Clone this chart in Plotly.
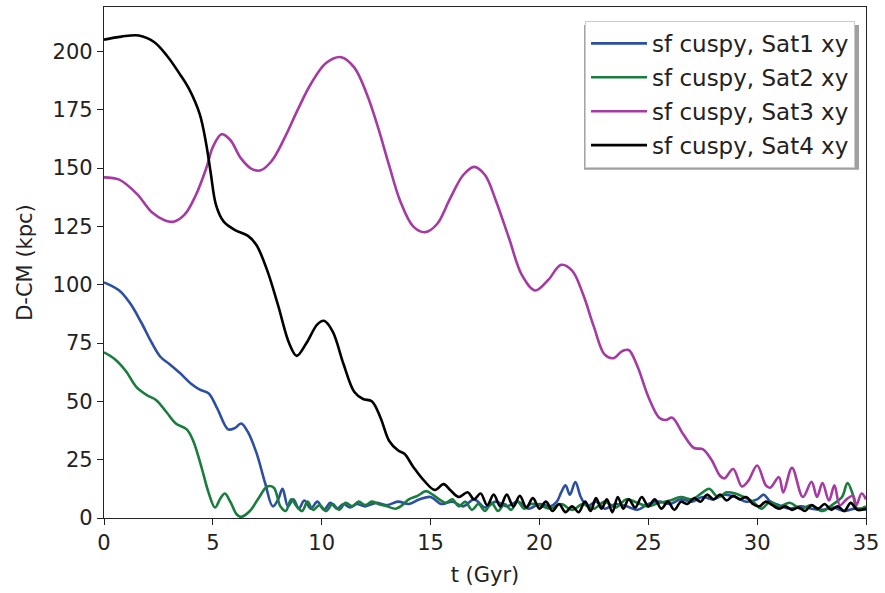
import plotly.graph_objects as go

# ---- data (t in Gyr, D-CM in kpc) ----
sat1_t = [0, 0.7, 1.2, 1.7, 2.2, 2.6, 3.0, 3.5, 4.0, 4.4, 4.8, 5.2, 5.7, 6.0, 6.3, 6.6, 7.0, 7.4, 7.75, 8.0,
          8.2, 8.45, 8.7, 8.95, 9.2, 9.5, 9.8, 10.1, 10.4, 10.7, 11.0, 11.3, 11.6, 12.0, 12.5, 13.0, 13.5, 14.0,
          14.5, 15.0, 15.5, 16.0, 16.5, 17.0, 17.5, 18.0, 18.5, 19.0, 19.5, 20.0, 20.5, 20.8, 21.0, 21.2, 21.4,
          21.65, 21.9, 22.2, 22.6, 23.0, 23.5, 24.0, 24.5, 25.0, 25.5, 26.0, 26.5, 27.0, 27.5, 28.0, 28.5, 29.0,
          29.5, 30.0, 30.3, 30.6, 31.0, 31.5, 32.0, 32.5, 33.0, 33.5, 34.0, 34.5, 35.0]
sat1_d = [101, 97.5, 92, 84, 75, 69, 66, 62, 57.5, 55, 53.5, 47, 38, 38.5, 40.5, 37, 28, 15, 5, 8,
          12.5, 5, 8, 4, 7.5, 4, 7, 3.5, 6.5, 4, 6, 4.5, 6, 5, 6.5, 5.5, 7, 6,
          8, 9, 6, 7, 5, 8, 4.5, 7, 5, 7, 4, 6, 5, 7, 11, 14, 10,
          15.4, 9, 5, 7, 4, 6, 5, 3.5, 6, 7, 6, 8, 7, 9, 8, 10, 9,
          7, 8, 10, 7, 5.5, 4, 5, 4, 3.5, 4.5, 3, 4, 3.5]

sat2_t = [0, 0.5, 1.0, 1.5, 2.0, 2.4, 2.9, 3.3, 3.8, 4.1, 4.5, 4.8, 5.1, 5.35, 5.55, 5.8, 6.1, 6.3, 6.7, 7.1,
          7.5, 7.8, 8.1, 8.35, 8.6, 8.85, 9.1, 9.35, 9.6, 9.9, 10.2, 10.5, 10.8, 11.1, 11.4, 11.7, 12.0, 12.3,
          12.6, 13.0, 13.4, 13.7, 14.0, 14.4, 14.8, 15.1, 15.4, 15.7, 16.0, 16.3, 16.6, 16.9, 17.2, 17.5, 17.8,
          18.1, 18.4, 18.7, 19.0, 19.3, 19.6, 20.0, 20.5, 21.0, 21.5, 22.0, 22.5, 23.0, 23.5, 24.0, 24.5, 25.0,
          25.5, 26.0, 26.5, 27.0, 27.5, 27.8, 28.2, 28.6, 29.0, 29.4, 29.8, 30.2, 30.6, 31.0, 31.5, 32.0, 32.5,
          33.0, 33.5, 33.9, 34.15, 34.4, 34.6, 35.0]
sat2_d = [71, 68, 63, 56, 52.5, 50.5, 45, 40.5, 38, 33, 21, 11, 4.5, 8.5, 10.5, 7, 1.5, 0.5, 3, 8.5,
          13.5, 13, 5, 3, 8, 5, 3, 7, 3.5, 5.5, 3, 6, 3.5, 6.5, 5, 7, 5.5, 7,
          6, 5, 4, 5.5, 8, 9.5, 11.5, 10, 8, 6.5, 8, 5, 7, 3.5, 6, 3, 6.5,
          3, 6, 3.5, 7, 4, 6, 5.5, 4, 6, 3.5, 6, 4, 7, 4.5, 8, 6.5, 5,
          6.5, 7.5, 9, 8, 11, 12.5, 9, 11, 10.5, 9, 7, 4, 7, 5, 6.5, 4, 5.5,
          3, 6, 9, 15, 10, 4, 5]

sat3_t = [0, 0.7, 1.5, 2.2, 2.8, 3.2, 3.7, 4.2, 4.7, 5.0, 5.4, 5.8, 6.3, 6.8, 7.2, 7.7, 8.3, 8.9, 9.5, 10.2,
          10.9, 11.5, 12.1, 12.6, 13.1, 13.6, 14.2, 14.75, 15.3, 15.9, 16.5, 17.0, 17.5, 18.0, 18.6, 19.2, 19.8,
          20.4, 21.0, 21.5, 22.0, 22.5, 23.0, 23.4, 23.8, 24.1, 24.5, 25.0, 25.5, 25.8, 26.1, 26.6, 27.1, 27.5,
          27.9, 28.3, 28.5, 28.9, 29.3, 29.6, 30.0, 30.4, 30.6, 31.0, 31.2, 31.6, 32.1, 32.5, 32.75, 33.0, 33.3,
          33.55, 33.8, 34.1, 34.4, 34.55, 34.8, 35.0]
sat3_d = [146, 145, 139, 131, 127.5, 127, 130, 138, 150, 159, 164.5, 162, 154, 149.5, 149, 153, 163, 175, 186, 195,
          197.5, 193, 181, 167, 151, 136, 125, 122.5, 126, 137, 147, 150.5, 147, 136, 120, 104, 97.5,
          102, 108.5, 106, 96, 82, 70, 68.5, 71.5, 72, 65, 52, 43, 42, 43, 36, 30, 29.5,
          25, 18, 17, 21, 13.5, 16, 22.5, 14, 13, 17.5, 11, 21.5, 9, 15.5, 9, 15, 7.5,
          14, 5.5, 8, 9.5, 5.5, 10.5, 8]

sat4_t = [0, 0.8, 1.6, 2.3, 2.9, 3.5, 3.9, 4.4, 4.7, 4.9, 5.15, 5.5, 6.0, 6.6, 7.0, 7.5, 8.0, 8.5, 8.85, 9.3,
          9.8, 10.1, 10.5, 11.0, 11.5, 11.9, 12.3, 12.7, 13.1, 13.5, 13.8, 14.2, 14.7, 15.2, 15.6, 15.9, 16.3,
          16.7, 17.0, 17.3, 17.6, 17.9, 18.2, 18.5, 18.8, 19.1, 19.4, 19.7, 20.0, 20.3, 20.6, 20.9, 21.2, 21.5,
          21.8, 22.1, 22.35, 22.6, 22.85, 23.1, 23.35, 23.6, 23.85, 24.1, 24.4, 24.7, 25.0, 25.3, 25.6, 25.9,
          26.2, 26.5, 26.8, 27.1, 27.4, 27.7, 28.0, 28.3, 28.6, 28.9, 29.2, 29.5, 29.8, 30.1, 30.4, 30.7, 31.0,
          31.3, 31.6, 31.9, 32.2, 32.5, 32.8, 33.1, 33.4, 33.7, 34.0, 34.3, 34.6, 35.0]
sat4_d = [205, 206.3, 206.8, 204, 198, 190, 184, 173, 160, 148, 134, 127, 123.5, 121, 117, 106, 91, 75, 69.5, 75,
          83, 84.5, 80, 66, 54, 51, 50, 43, 33, 29, 27.5, 22, 16, 12, 14.5, 12, 9,
          11, 8, 10.5, 5.5, 10, 5, 10, 5, 9.5, 4.5, 8.5, 4, 7, 3, 6, 2.5, 5,
          2.5, 7, 3, 8.5, 4, 8, 2.5, 9, 4, 8, 4.5, 9, 5, 8, 4, 7,
          3.5, 7, 6, 8.5, 7, 10, 8, 10, 7.5, 9.5, 8, 9, 6, 5, 7, 5.5, 4,
          5, 3.5, 4.5, 3, 5.5, 4, 6, 3.5, 5, 3, 6.5, 3.5, 4]

series_names = ["sf cuspy, Sat1 xy", "sf cuspy, Sat2 xy", "sf cuspy, Sat3 xy", "sf cuspy, Sat4 xy"]
series_colors = ["#2c4ea3", "#1a7d3e", "#a53aa3", "#000000"]
series_t = [sat1_t, sat2_t, sat3_t, sat4_t]
series_d = [sat1_d, sat2_d, sat3_d, sat4_d]

x_ticks = [0, 5, 10, 15, 20, 25, 30, 35]
y_ticks = [0, 25, 50, 75, 100, 125, 150, 175, 200]

fig = go.Figure()
for name, col, t, d in zip(series_names, series_colors, series_t, series_d):
    fig.add_trace(go.Scatter(x=t, y=d, mode="lines", name=name, legendgroup=name,
                             line=dict(color=col, width=2.6, shape="spline", smoothing=1.0)))

font = "DejaVu Sans"
fs = 21
axis_common = dict(showline=True, linecolor="#222", linewidth=1.3, mirror=True, ticks="outside",
                   ticklen=6, tickcolor="#222", showgrid=False, zeroline=False,
                   tickfont=dict(family=font, size=fs, color="#222"))
fig.update_layout(
    width=885, height=593,
    margin=dict(l=104, r=16, t=6, b=75),
    plot_bgcolor="white", paper_bgcolor="white",
    font=dict(family=font, color="#222"),
    xaxis=dict(range=[0, 35], tickvals=x_ticks, title=dict(text="t (Gyr)", font=dict(family=font, size=fs), standoff=12),
               **axis_common),
    yaxis=dict(range=[0, 219], tickvals=y_ticks, title=dict(text="D-CM (kpc)", font=dict(family=font, size=fs), standoff=14),
               **axis_common),
    legend=dict(x=0.9856, y=0.9727, xanchor="right", yanchor="top", bgcolor="white",
                bordercolor="#cccccc", borderwidth=1, font=dict(family=font, size=23, color="#222"),
                tracegroupgap=1, itemwidth=56),
    showlegend=True,
)
# legend drop shadow (offset grey box behind the legend)
fig.add_shape(type="rect", xref="paper", yref="paper", x0=0.630, x1=0.9908, y0=0.6816, y1=0.965,
              fillcolor="#a0a0a0", line=dict(width=0), layer="above")

fig.write_html("out.html")
